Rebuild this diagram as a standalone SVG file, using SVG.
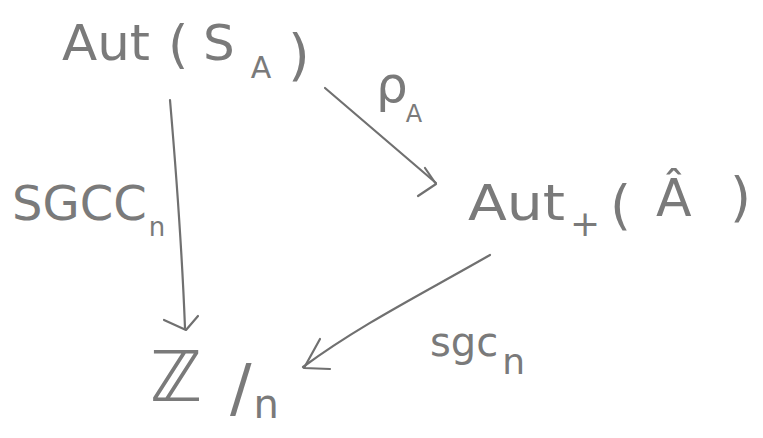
<svg xmlns="http://www.w3.org/2000/svg" width="763" height="438" viewBox="0 0 763 438">
<style>
.t{font-family:"DejaVu Sans","Liberation Sans",sans-serif;fill:#7a7a7a;font-weight:normal}
.c{fill:none;stroke:#707070;stroke-width:2.2;stroke-linecap:round;stroke-linejoin:round}
</style>
<rect width="763" height="438" fill="#ffffff"/>
<g id="aut-sa">
<text class="t" x="62" y="60" font-size="50" textLength="88" lengthAdjust="spacingAndGlyphs">Aut</text>
<text class="t" x="168" y="62" font-size="52">(</text>
<text class="t" x="203" y="60" font-size="50">S<tspan dx="16" dy="18" font-size="30">A</tspan></text>
<text class="t" x="288" y="74" font-size="56">)</text>
</g>
<g id="aut-plus-a">
<text class="t" x="468" y="220" font-size="50" textLength="97" lengthAdjust="spacingAndGlyphs">Aut</text>
<text class="t" x="570" y="236" font-size="36">+</text>
<text class="t" x="610" y="224" font-size="54">(</text>
<text class="t" x="656" y="216" font-size="52">Â</text>
<text class="t" x="730" y="216" font-size="54">)</text>
</g>
<g id="zn">
<text class="t" x="150" y="401" font-size="70">ℤ</text>
<text class="t" x="230" y="410" font-size="64">/<tspan dx="2" dy="8" font-size="40">n</tspan></text>
</g>
<g id="connectors">
<g id="sgcc">
<path class="c" d="M170,100 C176,170 182,250 185,328"/>
<path class="c" d="M164,320 L186,330 L198,316"/>
<text class="t" x="12" y="220" font-size="48">SGCC<tspan dx="2" dy="16" font-size="26">n</tspan></text>
</g>
<g id="rho">
<path class="c" d="M325,88 L436,183"/>
<path class="c" d="M425,168 L436,184 L418,196"/>
<text class="t" x="376" y="102" font-size="50">ρ<tspan dx="-2" dy="20" font-size="24">A</tspan></text>
</g>
<g id="sgc">
<path class="c" d="M490,255 C420,295 360,325 303,367"/>
<path class="c" d="M320,339 L304,368 L330,369"/>
<text class="t" x="430" y="356" font-size="40">sgc<tspan dx="4" dy="18" font-size="36">n</tspan></text>
</g>
</g>
</svg>
